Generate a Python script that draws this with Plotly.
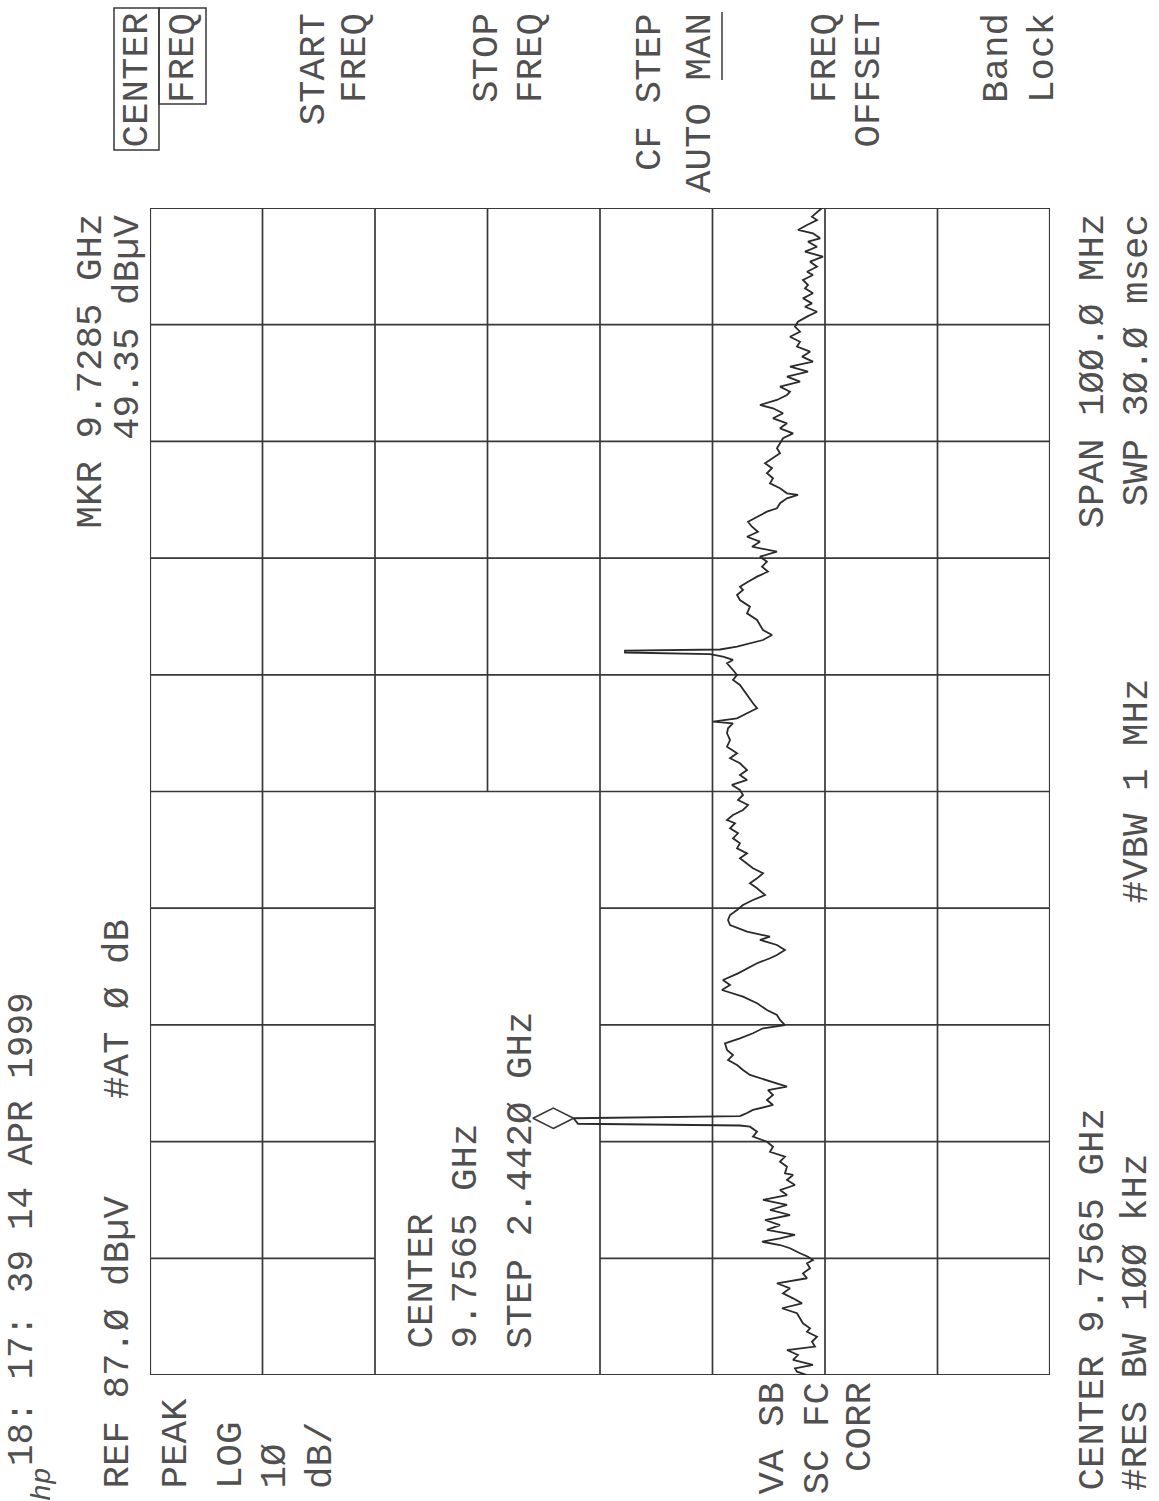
import plotly.graph_objects as go

# Spectrum analyzer sweep: frequency (MHz) vs. level (dBuV), plotted in the
# rotated hard-copy orientation (frequency runs bottom->top, level right->left).
freq_mhz = [
    9706.50, 9706.78, 9707.07, 9707.36, 9707.79, 9708.21, 9708.64, 9708.93, 9709.35, 9709.78,
    9710.21, 9710.50, 9710.93, 9711.36, 9711.79, 9712.22, 9712.64, 9713.07, 9713.50, 9713.93,
    9714.36, 9714.79, 9715.21, 9715.64, 9716.07, 9716.35, 9716.64, 9716.93, 9717.36, 9717.64,
    9717.92, 9718.21, 9718.50, 9718.93, 9719.35, 9719.78, 9720.21, 9720.64, 9721.07, 9721.50,
    9721.92, 9722.35, 9722.78, 9723.21, 9723.64, 9723.78, 9724.35, 9724.78, 9725.21, 9725.63,
    9726.06, 9726.49, 9726.92, 9727.35, 9727.78, 9727.88, 9728.03, 9728.50, 9728.69, 9728.87,
    9729.21, 9729.64, 9730.07, 9730.49, 9730.92, 9731.21, 9731.78, 9732.21, 9732.64, 9733.06,
    9733.49, 9733.92, 9734.35, 9734.92, 9735.35, 9735.78, 9736.21, 9736.49, 9736.92, 9737.35,
    9737.78, 9738.35, 9738.92, 9739.49, 9739.92, 9740.35, 9740.92, 9741.35, 9741.78, 9742.21,
    9742.49, 9742.92, 9743.35, 9743.78, 9744.06, 9744.49, 9744.78, 9745.06, 9745.49, 9745.92,
    9746.35, 9746.77, 9747.20, 9747.63, 9748.21, 9748.63, 9749.06, 9749.49, 9749.92, 9750.35,
    9750.78, 9751.20, 9751.63, 9752.06, 9752.49, 9752.92, 9753.35, 9753.78, 9754.06, 9754.49,
    9754.92, 9755.34, 9755.77, 9756.20, 9756.63, 9757.06, 9757.49, 9757.91, 9758.34, 9758.92,
    9759.35, 9759.77, 9760.34, 9760.91, 9761.49, 9761.92, 9762.34, 9762.48, 9762.77, 9763.20,
    9763.63, 9764.06, 9764.62, 9765.20, 9765.63, 9766.06, 9766.48, 9766.91, 9767.49, 9767.77,
    9768.05, 9768.28, 9768.41, 9768.58, 9768.67, 9768.91, 9769.20, 9769.48, 9769.91, 9770.34,
    9770.77, 9771.20, 9771.77, 9772.34, 9772.91, 9773.34, 9773.77, 9774.05, 9774.48, 9774.91,
    9775.34, 9775.76, 9776.19, 9776.62, 9777.05, 9777.48, 9777.91, 9778.33, 9778.76, 9779.19,
    9779.62, 9780.05, 9780.48, 9780.77, 9781.20, 9781.62, 9781.91, 9782.05, 9782.48, 9782.91,
    9783.34, 9783.77, 9784.20, 9784.62, 9785.05, 9785.48, 9785.91, 9786.34, 9786.77, 9787.19,
    9787.62, 9788.05, 9788.48, 9788.91, 9789.34, 9789.62, 9790.05, 9790.48, 9790.76, 9791.19,
    9791.62, 9792.05, 9792.47, 9792.90, 9793.33, 9793.76, 9794.19, 9794.62, 9795.04, 9795.47,
    9795.90, 9796.33, 9796.76, 9797.19, 9797.61, 9798.04, 9798.33, 9798.76, 9799.19, 9799.62,
    9799.90, 9800.33, 9800.76, 9801.04, 9801.47, 9801.90, 9802.33, 9802.76, 9803.18, 9803.61,
    9803.90, 9804.33, 9804.62, 9805.04, 9805.47, 9805.76, 9806.33, 9806.50,
]
level_dbuv = [
    28.60, 29.49, 29.67, 28.07, 29.84, 29.40, 30.38, 27.89, 28.16, 27.71,
    28.60, 28.33, 28.96, 29.22, 29.49, 30.82, 29.04, 29.84, 30.73, 30.11,
    31.27, 28.60, 28.96, 28.33, 28.60, 28.07, 28.51, 29.22, 30.11, 31.00,
    32.60, 31.00, 29.67, 32.16, 31.00, 32.33, 30.11, 31.89, 30.38, 32.51,
    30.38, 31.00, 29.67, 30.38, 29.84, 30.56, 30.38, 31.00, 30.56, 31.89,
    31.62, 32.16, 33.40, 33.04, 33.67, 34.56, 48.96, 49.35, 34.56, 34.11,
    33.40, 31.62, 32.16, 31.62, 32.07, 30.38, 32.16, 33.67, 34.29, 34.82,
    35.62, 35.18, 35.71, 35.89, 34.56, 33.40, 32.51, 30.56, 31.00, 31.27,
    32.16, 33.04, 34.29, 36.16, 35.44, 36.07, 34.73, 33.93, 33.04, 31.89,
    31.27, 30.56, 31.27, 32.78, 31.89, 33.93, 34.73, 35.44, 35.62, 35.44,
    34.82, 34.29, 33.40, 32.33, 33.04, 33.67, 33.04, 32.51, 33.40, 33.93,
    34.56, 33.93, 34.82, 34.56, 35.18, 34.73, 35.44, 35.00, 35.71, 35.18,
    34.29, 33.84, 34.73, 34.29, 34.56, 35.27, 33.93, 34.56, 33.93, 34.56,
    35.44, 34.82, 35.71, 35.44, 35.71, 35.62, 35.18, 36.96, 34.82, 33.93,
    33.04, 33.40, 33.84, 34.29, 34.56, 35.18, 34.82, 35.18, 35.71, 35.18,
    36.07, 37.22, 44.78, 44.78, 36.33, 34.82, 33.67, 32.51, 31.71, 32.51,
    32.78, 33.04, 33.93, 33.67, 34.56, 34.82, 34.29, 34.56, 33.84, 33.04,
    32.07, 32.60, 32.16, 32.78, 31.27, 33.49, 32.78, 33.93, 32.96, 33.49,
    33.84, 32.96, 32.16, 31.27, 31.00, 30.38, 29.40, 30.38, 31.00, 31.89,
    31.62, 32.16, 31.71, 32.33, 31.62, 31.00, 31.27, 31.00, 30.73, 29.84,
    31.00, 30.38, 31.62, 30.73, 31.62, 32.78, 31.27, 30.38, 30.11, 31.00,
    29.22, 30.38, 28.51, 30.11, 28.07, 29.04, 28.33, 29.49, 29.22, 30.11,
    29.22, 29.67, 29.40, 28.60, 27.71, 28.78, 28.16, 28.96, 28.07, 28.78,
    28.51, 28.96, 28.07, 28.60, 27.71, 28.33, 27.18, 28.78, 27.71, 28.51,
    27.44, 28.07, 29.40, 28.60, 27.71, 28.16, 27.44, 27.27,
]

# Marker readout
marker_freq_mhz = 9728.50
marker_level_dbuv = 49.35

# Instrument settings
ref_level = 87.0
db_per_div = 10.0
n_level_div = 8
start_mhz = 9706.5
span_mhz = 100.0
n_freq_div = 10

# Page geometry (pixels)
W, H = 1159, 1501
PL, PR, PT, PB = 150, 1050, 208, 1375
PW, PH = PR - PL, PB - PT

INK = "#383838"
TXT = "#505050"
FONT = "Liberation Mono"
FS = 37.5

lo_level = ref_level - db_per_div * n_level_div
stop_mhz = start_mhz + span_mhz
fdiv = span_mhz / n_freq_div

fig = go.Figure()

fig.add_trace(go.Scatter(
    x=level_dbuv, y=freq_mhz, mode="lines",
    line=dict(color="#2a2a2a", width=1.8),
    hoverinfo="skip", showlegend=False,
))

# marker diamond sitting just above the marked peak
fig.add_trace(go.Scatter(
    x=[marker_level_dbuv + 1.8], y=[marker_freq_mhz], mode="markers",
    marker=dict(symbol="diamond-wide-open", size=29, color=INK,
                line=dict(color=INK, width=1.6)),
    hoverinfo="skip", showlegend=False,
))

shapes = []


def seg(x0, y0, x1, y1, w=1.7):
    shapes.append(dict(type="line", xref="x", yref="y", x0=x0, y0=y0, x1=x1, y1=y1,
                       line=dict(color=INK, width=w), layer="below"))


# graticule, leaving the annotation window (levels 67..47, lower five freq divisions) open
box_hi = ref_level - 2 * db_per_div
box_lo = ref_level - 4 * db_per_div
box_top = start_mhz + 5 * fdiv
for i in range(n_level_div + 1):
    lv = ref_level - i * db_per_div
    w = 2.2 if i in (0, n_level_div) else 1.7
    if i == 3:
        seg(lv, box_top, lv, stop_mhz, w)
    else:
        seg(lv, start_mhz, lv, stop_mhz, w)
for j in range(n_freq_div + 1):
    f = start_mhz + j * fdiv
    w = 2.2 if j in (0, n_freq_div) else 1.7
    if 1 <= j <= 4:
        seg(ref_level, f, box_hi, f, w)
        seg(box_lo, f, lo_level, f, w)
    else:
        seg(ref_level, f, lo_level, f, w)


def px(xp):
    return (xp - PL) / PW


def py(yp):
    return (PB - yp) / PH


def paper_line(x0, y0, x1, y1, w=1.5):
    shapes.append(dict(type="line", xref="paper", yref="paper",
                       x0=px(x0), y0=py(y0), x1=px(x1), y1=py(y1),
                       line=dict(color=INK, width=w)))


def paper_rect(x0, y0, x1, y1, w=1.5):
    shapes.append(dict(type="rect", xref="paper", yref="paper",
                       x0=px(x0), y0=py(y0), x1=px(x1), y1=py(y1),
                       line=dict(color=INK, width=w)))


# softkey highlight boxes and the AUTO/MAN underline
paper_rect(114, 8, 159, 150)
paper_rect(159, 8, 206, 104)
paper_line(722, 12, 722, 80)

annotations = []


def label(text, cx, y, anchor="bottom", size=FS, italic=False):
    annotations.append(dict(
        text=text, xref="paper", yref="paper", x=px(cx), y=py(y),
        xanchor="center", yanchor=anchor, textangle=-90, showarrow=False,
        font=dict(family=FONT, size=size, color=TXT,
                  style="italic" if italic else "normal"),
        borderpad=0,
    ))


# header lines
label("18: 17: 39", 22, 1467, size=36)
label("14 APR 1999", 22, 1231, size=36)
label("hp", 42, 1502, size=28, italic=True)
label("MKR 9.7285 GHz", 90, 213, "top")
label("REF 87.Ø dBµV", 118, 1490)
label("#AT Ø dB", 118, 1100)
label("49.35 dBµV", 128, 213, "top")

# left-side status column
label("PEAK", 176, 1490)
label("LOG", 231, 1490)
label("1Ø", 275, 1490)
label("dB/", 321, 1490)
label("VA SB", 772, 1381, "top")
label("SC FC", 817, 1381, "top")
label("CORR", 860, 1381, "top")

# active function window
label("CENTER", 421, 1350)
label("9.7565 GHz", 465, 1350)
label("STEP 2.442Ø GHz", 521, 1350)

# bottom readouts
label("CENTER 9.7565 GHz", 1092, 1492)
label("SPAN 1ØØ.Ø MHz", 1092, 213, "top")
label("#RES BW 1ØØ kHz", 1136, 1492)
label("#VBW 1 MHz", 1136, (PT + PB) / 2, "middle")
label("SWP 3Ø.Ø msec", 1136, 213, "top")

# softkey menu
for txt, cx in [("CENTER", 137), ("FREQ", 183), ("START", 314), ("FREQ", 355),
                ("STOP", 487), ("FREQ", 531), ("CF STEP", 650), ("AUTO MAN", 700),
                ("FREQ", 825), ("OFFSET", 869), ("Band", 997), ("Lock", 1043)]:
    label(txt, cx, 12, "top")

fig.update_layout(
    width=W, height=H, autosize=False,
    margin=dict(l=PL, r=W - PR, t=PT, b=H - PB, pad=0),
    paper_bgcolor="white", plot_bgcolor="white",
    xaxis=dict(range=[ref_level, lo_level], showgrid=False, zeroline=False,
               showticklabels=False, showline=False, ticks=""),
    yaxis=dict(range=[start_mhz, stop_mhz], showgrid=False, zeroline=False,
               showticklabels=False, showline=False, ticks=""),
    shapes=shapes, annotations=annotations, showlegend=False,
)

fig.write_html("out.html")
